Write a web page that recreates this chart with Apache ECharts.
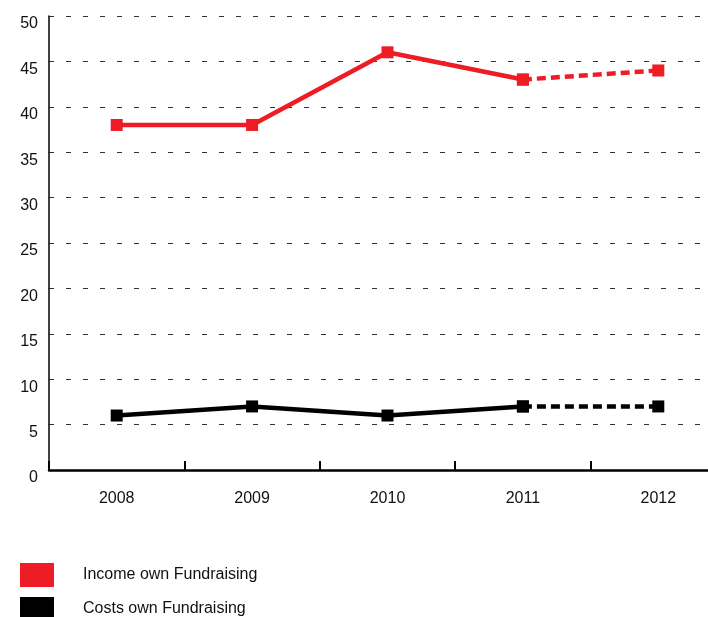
<!DOCTYPE html>
<html><head><meta charset="utf-8">
<script src="https://cdn.jsdelivr.net/npm/echarts@6/dist/echarts.min.js"></script>
<style>html,body{margin:0;padding:0;background:#fff}#c{width:708px;height:617px}</style>
</head><body><div id="c"></div>
<script>
const years = ['2008','2009','2010','2011','2012'];
const incomeActual = [38, 38, 46, 43, null];
const incomeForecast = [null, null, null, 43, 44];
const costsActual = [6, 7, 6, 7, null];
const costsForecast = [null, null, null, 7, 7];
const yTicks = [0, 5, 10, 15, 20, 25, 30, 35, 40, 45, 50];
const legendNames = ['Income own Fundraising', 'Costs own Fundraising'];

const RED = '#ee1c25', BLACK = '#000000';
const font = 'Liberation Sans, Arial, Helvetica, sans-serif';
const chart = echarts.init(document.getElementById('c'));
function line(name, data, color, dashed) {
  return {
    name, type: 'line', data, connectNulls: false,
    symbol: 'rect', symbolSize: 12, showSymbol: true,
    lineStyle: { color, width: 4.5, type: dashed ? [9, 5] : 'solid' },
    itemStyle: { color },
    emphasis: { disabled: true }, z: dashed ? 3 : 4
  };
}
function legend(name, top) {
  return {
    orient: 'vertical', left: 20, top, padding: 0, itemWidth: 34, itemHeight: 24,
    icon: 'rect', data: [name], selectedMode: false,
    textStyle: { fontSize: 16, fontFamily: font, color: '#111', padding: [0, 0, 14, 24] }
  };
}
chart.setOption({
  animation: false,
  grid: { left: 49, top: 16, right: -18, bottom: 147, containLabel: false, outerBoundsMode: 'none' },
  xAxis: {
    type: 'category', data: years, boundaryGap: true,
    axisLine: { lineStyle: { color: BLACK, width: 2.5 } },
    axisTick: { show: true, inside: true, length: 9, alignWithLabel: false, lineStyle: { color: BLACK, width: 2 } },
    axisLabel: { color: '#111', fontSize: 16, fontFamily: font, margin: 21 },
    splitLine: { show: false }
  },
  yAxis: {
    type: 'value', min: yTicks[0], max: yTicks[yTicks.length - 1], interval: 5,
    axisLine: { show: true, lineStyle: { color: BLACK, width: 1.5 } },
    axisTick: { show: false },
    axisLabel: { color: '#111', fontSize: 16, fontFamily: font, margin: 11, verticalAlign: 'top' },
    splitLine: { show: true, lineStyle: { color: '#333', width: 1, type: [5, 12] } }
  },
  legend: [legend(legendNames[0], 563), legend(legendNames[1], 597)],
  series: [
    line(legendNames[0], incomeActual, RED, false),
    line('Income forecast', incomeForecast, RED, true),
    line(legendNames[1], costsActual, BLACK, false),
    line('Costs forecast', costsForecast, BLACK, true)
  ]
});
</script></body></html>
